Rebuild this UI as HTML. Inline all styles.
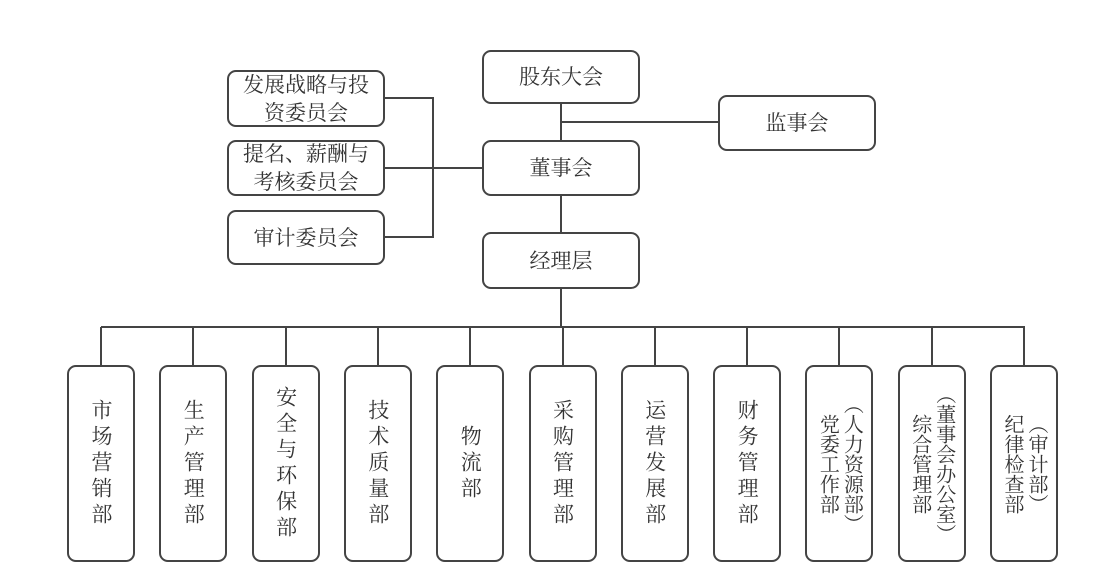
<!DOCTYPE html>
<html><head><meta charset="utf-8"><style>
body{margin:0;background:#fff;}
#c{position:relative;width:1095px;height:572px;overflow:hidden;font-family:"Liberation Serif","Noto Serif CJK SC",serif;color:#333;}
.b{position:absolute;box-sizing:border-box;border:2px solid #444;border-radius:9px;background:#fff;display:flex;align-items:center;justify-content:center;text-align:center;font-size:21px;line-height:28px;}
.v{writing-mode:vertical-lr;font-size:21px;line-height:26px;letter-spacing:5px;white-space:nowrap;text-align:center;}
.v2{letter-spacing:0;font-size:20px;line-height:24px;}
.l{position:absolute;background:#444;}
</style></head><body><div id="c">
<div class="l" style="left:560px;top:103px;width:2px;height:130px"></div>
<div class="l" style="left:561px;top:121px;width:158px;height:2px"></div>
<div class="l" style="left:385px;top:97px;width:49px;height:2px"></div>
<div class="l" style="left:385px;top:167px;width:98px;height:2px"></div>
<div class="l" style="left:385px;top:236px;width:49px;height:2px"></div>
<div class="l" style="left:432px;top:97px;width:2px;height:141px"></div>
<div class="l" style="left:560px;top:289px;width:2px;height:38px"></div>
<div class="l" style="left:101px;top:326px;width:924px;height:2px"></div>

<div class="b" style="left:482px;top:50px;width:158px;height:54px">股东大会</div>
<div class="b" style="left:482px;top:140px;width:158px;height:56px">董事会</div>
<div class="b" style="left:482px;top:232px;width:158px;height:57px">经理层</div>
<div class="b" style="left:718px;top:95px;width:158px;height:56px">监事会</div>
<div class="b" style="left:227px;top:70px;width:158px;height:57px">发展战略与投<br>资委员会</div>
<div class="b" style="left:227px;top:140px;width:158px;height:56px">提名、薪酬与<br>考核委员会</div>
<div class="b" style="left:227px;top:210px;width:158px;height:55px">审计委员会</div>

<div id="bot"></div>
<script>
var t=["市场营销部","生产管理部","安全与环保部","技术质量部","物流部","采购管理部","运营发展部","财务管理部","党委工作部<br>（人力资源部）","综合管理部<br>（董事会办公室）","纪律检查部<br>（审计部）"];
var h="";
for(var i=0;i<11;i++){var cx=101+i*92.3;
h+='<div class="l" style="left:'+(cx-1)+'px;top:327px;width:2px;height:40px"></div>';
h+='<div class="b" style="left:'+(cx-34)+'px;top:365px;width:68px;height:197px"><div class="v'+(i>=8?' v2':'')+'">'+t[i]+'</div></div>';}
document.getElementById("bot").innerHTML=h;
</script>
</div></body></html>
